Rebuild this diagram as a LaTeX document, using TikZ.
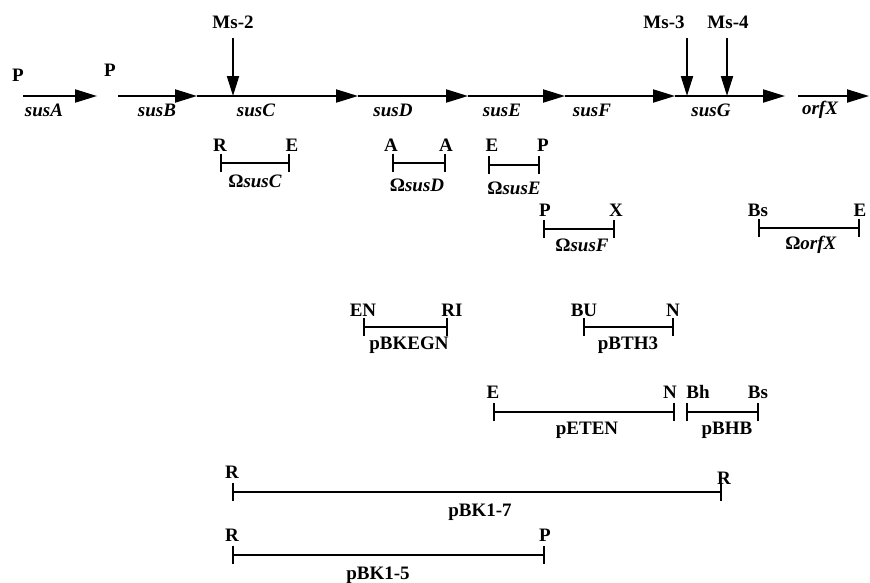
\documentclass[tikz,border=0pt]{standalone}
\usepackage{fontspec}
\setmainfont{Liberation Serif}
\usetikzlibrary{arrows.meta}
\begin{document}
\begin{tikzpicture}[x=1pt,y=-1pt,
  lbl/.style={font=\fontsize{19}{21}\selectfont\bfseries, inner sep=0pt},
  gene/.style={font=\fontsize{19}{21}\selectfont\bfseries\itshape, inner sep=0pt},
  dna/.style={line width=2pt},
  gtip/.style={dna,-{Triangle[length=22pt,width=13pt]}},
  site/.style={line width=2pt,-{Triangle[length=20pt,width=12pt]}},
  frag/.style={line width=2pt,{Bar[width=18pt]}-{Bar[width=18pt]}}]
\useasboundingbox (0,0) rectangle (870,582);
% gene line
\coordinate (a0) at (23,96);
\coordinate (a1) at (97,96);
\coordinate (b0) at (118,96);
\coordinate (b1) at (197,96);
\coordinate (c1) at (358,96);
\coordinate (d1) at (468,96);
\coordinate (e1) at (565,96);
\coordinate (f1) at (675,96);
\coordinate (g1) at (785,96);
\coordinate (x0) at (798,96);
\coordinate (x1) at (869,96);
\draw[gtip] (a0) -- (a1);
\draw[gtip] (b0) -- (b1);
\draw[gtip] (b1) -- (c1);
\draw[gtip] (c1) -- (d1);
\draw[gtip] (d1) -- (e1);
\draw[gtip] (e1) -- (f1);
\draw[gtip] (f1) -- (g1);
\draw[gtip] (x0) -- (x1);
\node[lbl] (p1) at (18,75) {P};
\node[lbl] (p2) at (110,70) {P};
\node[gene] (nA) at (44,110) {susA};
\node[gene] (nB) at (157,110) {susB};
\node[gene] (nC) at (256,110) {susC};
\node[gene] (nD) at (393,110) {susD};
\node[gene] (nE) at (502,110) {susE};
\node[gene] (nF) at (592,110) {susF};
\node[gene] (nG) at (711,110) {susG};
\node[gene] (nX) at (820,110) {orfX};
% Ms sites
\node[lbl] (ms2) at (233,22) {Ms-2};
\node[lbl] (ms3) at (664,22) {Ms-3};
\node[lbl] (ms4) at (728,22) {Ms-4};
\coordinate (s2a) at (233,38);
\coordinate (s2b) at (233,96);
\coordinate (s3a) at (687,38);
\coordinate (s3b) at (687,96);
\coordinate (s4a) at (727,38);
\coordinate (s4b) at (727,96);
\draw[site] (s2a) -- (s2b);
\draw[site] (s3a) -- (s3b);
\draw[site] (s4a) -- (s4b);
% fragments
\coordinate (oc0) at (220,163); \coordinate (oc1) at (290,163);
\draw[frag] (oc0) -- (oc1);
\node[lbl] (oc0l) at (220,145) {R};
\node[lbl] (oc1l) at (292,145) {E};
\node[lbl] (ocn) at (255,181) {Ω\textit{susC}};

\coordinate (od0) at (392,163); \coordinate (od1) at (446,163);
\draw[frag] (od0) -- (od1);
\node[lbl] (od0l) at (391,145) {A};
\node[lbl] (od1l) at (446,145) {A};
\node[lbl] (odn) at (417,185) {Ω\textit{susD}};

\coordinate (oe0) at (488,165); \coordinate (oe1) at (540,165);
\draw[frag] (oe0) -- (oe1);
\node[lbl] (oe0l) at (492,145) {E};
\node[lbl] (oe1l) at (543,145) {P};
\node[lbl] (oen) at (514,188) {Ω\textit{susE}};

\coordinate (of0) at (543,229); \coordinate (of1) at (615,229);
\draw[frag] (of0) -- (of1);
\node[lbl] (of0l) at (545,210) {P};
\node[lbl] (of1l) at (616,210) {X};
\node[lbl] (ofn) at (582,245) {Ω\textit{susF}};

\coordinate (ox0) at (758,228); \coordinate (ox1) at (860,228);
\draw[frag] (ox0) -- (ox1);
\node[lbl] (ox0l) at (758,210) {Bs};
\node[lbl] (ox1l) at (860,210) {E};
\node[lbl] (oxn) at (811,245) {Ω\textit{orfX}};

\coordinate (k0) at (363,327); \coordinate (k1) at (448,327);
\draw[frag] (k0) -- (k1);
\node[lbl] (k0l) at (363,310) {EN};
\node[lbl] (k1l) at (452,310) {RI};
\node[lbl] (kn) at (409,345) {pBKEGN};

\coordinate (t0) at (583,327); \coordinate (t1) at (674,327);
\draw[frag] (t0) -- (t1);
\node[lbl] (t0l) at (584,310) {BU};
\node[lbl] (t1l) at (673,310) {N};
\node[lbl] (tn) at (628,345) {pBTH3};

\coordinate (e0) at (493,412); \coordinate (e1x) at (675,412);
\draw[frag] (e0) -- (e1x);
\node[lbl] (e0l) at (493,392) {E};
\node[lbl] (e1l) at (670,392) {N};
\node[lbl] (en) at (587,430) {pETEN};

\coordinate (h0) at (686,412); \coordinate (h1) at (759,412);
\draw[frag] (h0) -- (h1);
\node[lbl] (h0l) at (698,392) {Bh};
\node[lbl] (h1l) at (758,392) {Bs};
\node[lbl] (hn) at (727,430) {pBHB};

\coordinate (r0) at (232,492); \coordinate (r1) at (722,492);
\draw[frag] (r0) -- (r1);
\node[lbl] (r0l) at (232,472) {R};
\node[lbl] (r1l) at (724,478) {R};
\node[lbl] (rn) at (480,512) {pBK1-7};

\coordinate (q0) at (232,555); \coordinate (q1) at (545,555);
\draw[frag] (q0) -- (q1);
\node[lbl] (q0l) at (232,535) {R};
\node[lbl] (q1l) at (545,535) {P};
\node[lbl] (qn) at (378,575) {pBK1-5};
\end{tikzpicture}
\end{document}
